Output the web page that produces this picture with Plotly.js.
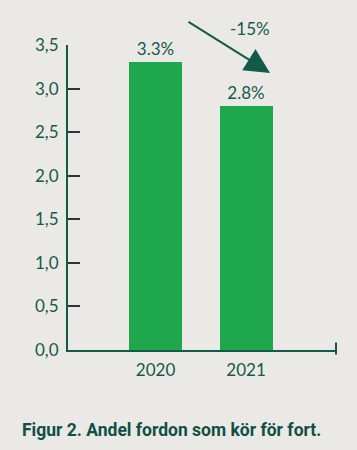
<!DOCTYPE html>
<html>
<head>
<meta charset="utf-8">
<script src="https://cdn.plot.ly/plotly-3.0.1.min.js"></script>
<style>
html,body{margin:0;padding:0;background:#ebe9e5;}
#chart{width:357px;height:450px;}
</style>
</head>
<body>
<div id="chart"></div>
<script>
const years = ['2020', '2021'];
const shares = [3.3, 2.8];
const yTicks = [0, 0.5, 1, 1.5, 2, 2.5, 3, 3.5];
const titleText = 'Figur 2. Andel fordon som kör för fort.';

const dark = '#145a4a';
const barColor = '#1fa74c';
const bg = '#ebe9e5';

const labels = shares.map(v => v.toFixed(1) + '%');
const change = Math.round((shares[1] - shares[0]) / shares[0] * 100);
const changeText = (change > 0 ? '+' : '') + change + '%';

const trace = {
  type: 'bar',
  x: [0, 1],
  y: shares,
  width: 0.585,
  marker: {color: barColor},
  text: labels,
  textposition: 'outside',
  cliponaxis: false,
  textfont: {family: 'Lato, sans-serif', size: 17, color: dark},
  hoverinfo: 'none'
};

const layout = {
  width: 357, height: 450,
  paper_bgcolor: bg, plot_bgcolor: bg,
  margin: {l: 68, r: 21, t: 45, b: 100},
  separators: ',.',
  showlegend: false,
  bargap: 0,
  xaxis: {
    range: [-0.967, 1.994],
    tickvals: [0, 1],
    ticktext: years,
    ticks: '',
    ticklabelstandoff: 4,
    showgrid: false,
    zeroline: false,
    showline: true,
    linecolor: dark,
    linewidth: 2,
    tickfont: {family: 'Lato, sans-serif', size: 17, color: dark},
    fixedrange: true
  },
  yaxis: {
    range: [0, 3.5],
    tickvals: yTicks,
    tickformat: '.1f',
    ticks: 'inside',
    ticklen: 12,
    tickwidth: 2,
    tickcolor: '#333333',
    ticklabelstandoff: 4,
    showgrid: false,
    zeroline: false,
    showline: true,
    linecolor: dark,
    linewidth: 2,
    tickfont: {family: 'Lato, sans-serif', size: 17, color: dark},
    fixedrange: true
  },
  shapes: [{
    type: 'line', xref: 'paper', yref: 'paper',
    x0: 1, x1: 1, y0: -0.015, y1: 0.025,
    line: {color: dark, width: 2}
  }],
  annotations: [
    {
      x: 1.265, y: 3.18, xref: 'x', yref: 'y',
      ax: -83, ay: -52,
      showarrow: true, arrowhead: 2, arrowsize: 2.5, arrowwidth: 2,
      arrowcolor: dark, text: ''
    },
    {
      x: (250 - 68) / 268, y: (350 - 29) / 305, xref: 'paper', yref: 'paper',
      xanchor: 'center', yanchor: 'middle',
      text: changeText, showarrow: false,
      font: {family: 'Lato, sans-serif', size: 17, color: dark}
    },
    {
      x: (20 - 68) / 268, xref: 'paper', xanchor: 'left',
      y: -(430 - 350) / 305, yref: 'paper', yanchor: 'middle',
      text: '<b>' + titleText + '</b>', showarrow: false,
      font: {family: 'Roboto, sans-serif', size: 17.5, color: '#0f4f45'}
    }
  ]
};

Plotly.newPlot('chart', [trace], layout, {displayModeBar: false, staticPlot: true});
</script>
</body>
</html>
